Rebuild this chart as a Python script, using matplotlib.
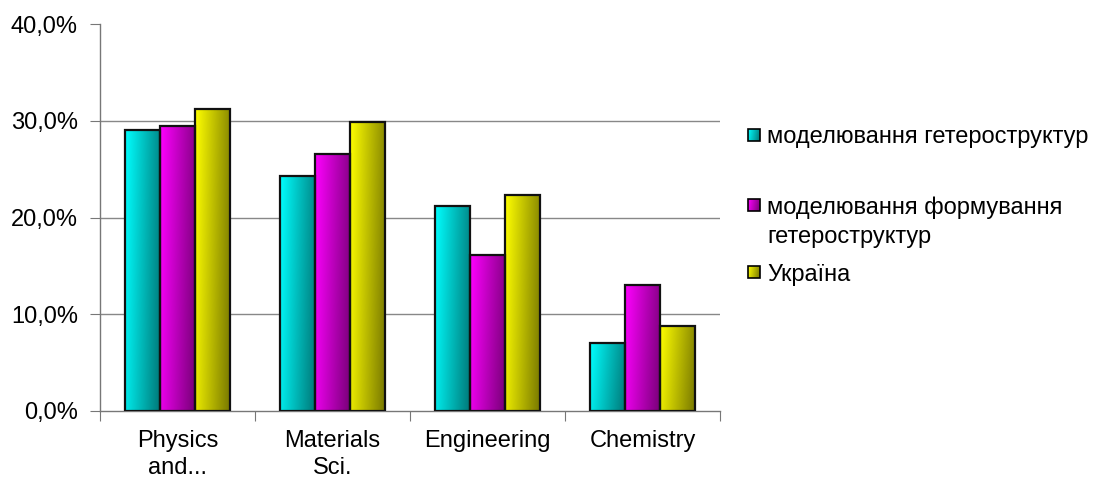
import numpy as np
import matplotlib
matplotlib.use("Agg")
import matplotlib.pyplot as plt
from matplotlib.patches import Rectangle

plt.rcParams['font.family'] = ['Liberation Sans', 'DejaVu Sans']

categories = ["Physics\nand...", "Materials\nSci.", "Engineering", "Chemistry"]
series_names = ["моделювання гетероструктур",
                "моделювання формування\nгетероструктур",
                "Україна"]
s_hetero = [29.0, 24.3, 21.2, 7.0]
s_form = [29.5, 26.6, 16.1, 13.0]
s_ukr = [31.2, 29.9, 22.3, 8.8]
yticks = [0, 10, 20, 30, 40]
ytick_labels = ["0,0%", "10,0%", "20,0%", "30,0%", "40,0%"]

series = [s_hetero, s_form, s_ukr]
light = [np.array([0, 255, 255]) / 255, np.array([255, 0, 255]) / 255, np.array([255, 255, 0]) / 255]
dark = [np.array([0, 118, 118]) / 255, np.array([118, 0, 118]) / 255, np.array([118, 118, 0]) / 255]

W, H = 1105, 488
FS = 17
fig = plt.figure(figsize=(W / 100, H / 100), dpi=100)
ax = fig.add_axes([100 / W, 1 - 411 / H, 620 / W, (411 - 24) / H])


def grad_img(c0, c1, n=64):
    xs = np.linspace(0, 1, n)
    ys = np.linspace(0, 1, n)
    X, Y = np.meshgrid(xs, ys)
    t = np.clip(0.85 * X + 0.15 * Y, 0, 1)  # bright top-left -> dark bottom-right
    img = c0[None, None, :] * (1 - t[..., None]) + c1[None, None, :] * t[..., None]
    return img


bw = 0.226
x = np.arange(len(categories))
for i, vals in enumerate(series):
    img = grad_img(light[i], dark[i])
    for j, v in enumerate(vals):
        x0 = x[j] + (i - 1) * bw - bw / 2
        bars = ax.bar(x0, v, width=bw, align='edge', facecolor='none',
                      edgecolor='#111111', linewidth=1.6, zorder=3)
        rect = bars[0]
        im = ax.imshow(img, extent=[x0, x0 + bw, 0, v], origin='upper',
                       aspect='auto', zorder=2, interpolation='bilinear')
        im.set_clip_path(rect)

ax.set_xlim(-0.5, len(categories) - 0.5)
ax.set_ylim(0, 40)
ax.set_yticks(yticks)
ax.set_yticklabels(ytick_labels, fontsize=FS)
for yv in yticks[1:-1]:
    ax.axhline(yv, color='#888888', linewidth=1.0, zorder=1)

ax.set_xticks(np.arange(-0.5, len(categories) + 0.5, 1))
ax.set_xticklabels([])
ax.set_xticks(x, minor=True)
ax.set_xticklabels(categories, minor=True, fontsize=FS, linespacing=1.25)
ax.tick_params(axis='x', which='minor', length=0, pad=14)
ax.tick_params(axis='x', which='major', length=7, color='#777777', direction='out')
ax.tick_params(axis='y', length=7, color='#777777', direction='out', pad=9)
for s in ['top', 'right']:
    ax.spines[s].set_visible(False)
for s in ['left', 'bottom']:
    ax.spines[s].set_color('#777777')
    ax.spines[s].set_linewidth(1.0)

# Legend (manual, to match irregular spacing)
lax = fig.add_axes([0, 0, 1, 1], facecolor='none')
lax.set_xlim(0, W)
lax.set_ylim(H, 0)
lax.axis('off')
legend_y = [135, 205, 272]
for i, name in enumerate(series_names):
    my = legend_y[i]
    img = grad_img(light[i], dark[i])
    lax.imshow(img, extent=[748, 760, my + 6, my - 6], aspect='auto',
               interpolation='bilinear', zorder=2)
    lax.add_patch(Rectangle((748, my - 6), 12, 12, facecolor='none',
                            edgecolor='black', linewidth=1.2, zorder=3))
    lax.text(767, my, name.split("\n")[0], fontsize=FS, va='center_baseline', ha='left')
    if "\n" in name:
        lax.text(767, my + 29, name.split("\n")[1], fontsize=FS, va='center_baseline', ha='left')
lax.set_xlim(0, W)
lax.set_ylim(H, 0)

fig.savefig("out.png", dpi=100)
